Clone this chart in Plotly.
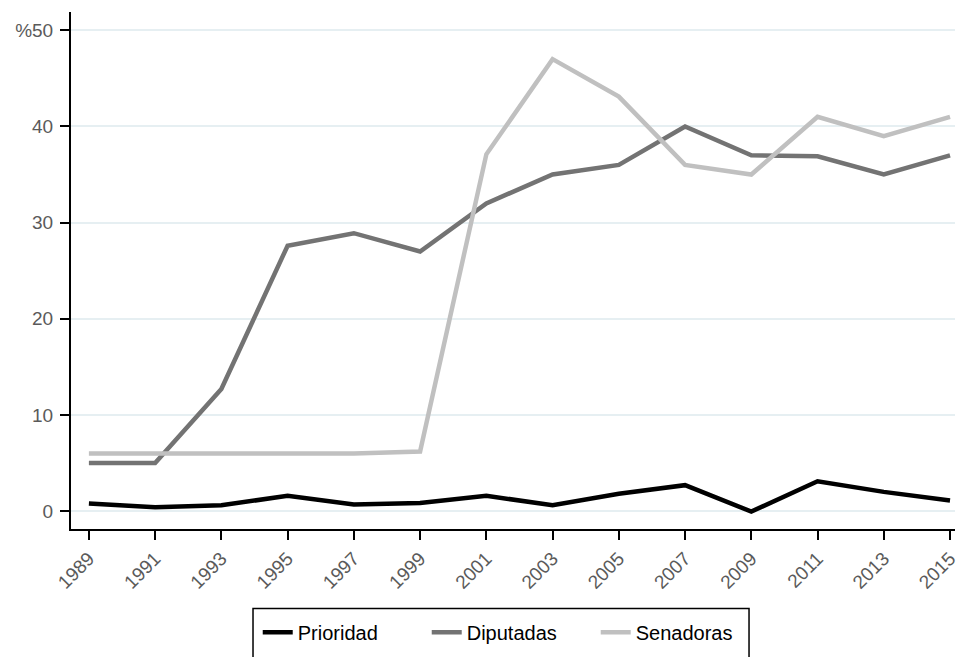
import plotly.graph_objects as go

years = [1989, 1991, 1993, 1995, 1997, 1999, 2001, 2003, 2005, 2007, 2009, 2011, 2013, 2015]
prioridad = [0.8, 0.4, 0.6, 1.6, 0.7, 0.85, 1.6, 0.6, 1.8, 2.7, -0.05, 3.1, 2.0, 1.1]
diputadas = [5.0, 5.0, 12.7, 27.6, 28.9, 27.0, 32.0, 35.0, 36.0, 40.0, 37.0, 36.9, 35.0, 37.0]
senadoras = [6.0, 6.0, 6.0, 6.0, 6.0, 6.2, 37.1, 47.0, 43.1, 36.0, 35.0, 41.0, 39.0, 41.0]
y_ticks = [0, 10, 20, 30, 40, 50]
y_ticktext = ["0", "10", "20", "30", "40", "%50"]

fig = go.Figure()
fig.add_trace(go.Scatter(x=years, y=prioridad, mode="lines", name="Prioridad",
                         line=dict(color="#000000", width=4.5)))
fig.add_trace(go.Scatter(x=years, y=diputadas, mode="lines", name="Diputadas",
                         line=dict(color="#737373", width=4.5)))
fig.add_trace(go.Scatter(x=years, y=senadoras, mode="lines", name="Senadoras",
                         line=dict(color="#c0c0c0", width=4.5)))

tickfont = dict(family="Liberation Sans, Arial, sans-serif", size=19, color="#5a5a5a")

fig.update_layout(
    width=960, height=657,
    margin=dict(l=71, r=5, t=12, b=125),
    paper_bgcolor="white", plot_bgcolor="white",
    showlegend=True,
    legend=dict(orientation="h", x=0.498, xanchor="center", y=-0.162, yanchor="top",
                borderwidth=0, bgcolor="rgba(0,0,0,0)",
                font=dict(family="Liberation Sans, Arial, sans-serif", size=20, color="#000000"),
                entrywidth=124, entrywidthmode="pixels"),
    shapes=[dict(type="rect", xref="paper", yref="paper",
                 x0=0.2059, x1=0.767, y0=-0.1538, y1=-0.32,
                 line=dict(color="#000000", width=1.5), fillcolor="rgba(0,0,0,0)")],
    xaxis=dict(range=[1988.46, 2015.15], tickmode="array", tickvals=years,
               ticktext=[str(y) for y in years], tickangle=-45, automargin=False,
               ticks="outside", ticklen=9, tickcolor="#000000", tickwidth=1.5,
               showline=True, linecolor="#000000", linewidth=2,
               showgrid=False, zeroline=False, tickfont=tickfont),
    yaxis=dict(range=[-1.86, 51.9], tickmode="array", tickvals=y_ticks, ticktext=y_ticktext,
               automargin=False, ticklabelstandoff=3,
               ticks="outside", ticklen=9, tickcolor="#000000", tickwidth=1.5,
               showline=True, linecolor="#000000", linewidth=2,
               showgrid=True, gridcolor="#e6eff2", gridwidth=1.5,
               zeroline=False, tickfont=tickfont),
)

fig.write_html("out.html", config={"displayModeBar": False},
               post_script="document.body.style.margin='0';document.body.style.overflow='hidden';")
